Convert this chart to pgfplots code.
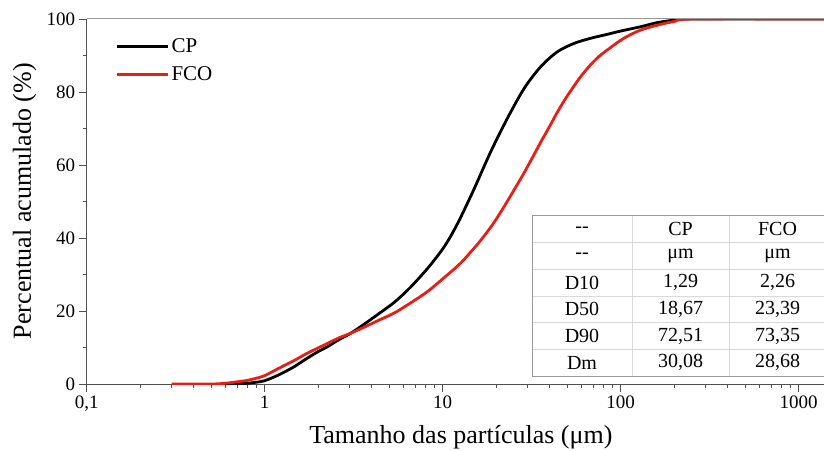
\documentclass[border=0pt]{standalone}
\usepackage{fontspec}
\setmainfont{Liberation Serif}
\usepackage{pgfplots}
\pgfplotsset{compat=1.18}
\usepackage{pgfplotstable}
\definecolor{fcored}{RGB}{232,30,20}
\definecolor{axgray}{RGB}{80,80,80}

\pgfplotstableread{
x y
0.6 0
0.7 0.05
0.8 0.2
0.9 0.5
1 0.9
1.2 2.5
1.46 4.7
1.7 6.8
2 8.9
2.25 10.2
2.6 12.1
3.04 13.9
3.6 16.3
4.3 19
5.32 22.3
6.5 26.2
8.2 31.6
10 37
11.3 41.2
12.6 45.6
15 53.4
18.6 63.6
23.1 72.8
28.7 81
35.5 86.9
44 91
54.6 93.3
67.6 94.7
84 95.8
100 96.7
130 97.9
160 99
200 99.7
250 100
1400 100
}\cpdata

\pgfplotstableread{
x y
0.3 0
0.5 0
0.6 0.2
0.7 0.6
0.8 1.0
0.9 1.6
1 2.3
1.2 4.3
1.46 6.4
1.7 8.2
2 9.9
2.25 11.1
2.6 12.6
3.04 13.9
3.6 15.5
4.3 17.3
5.32 19.4
6.5 22
8.2 25.3
10 28.8
12.6 33.1
15.5 38.0
17.5 41.2
19.4 44.2
21.5 47.6
23.9 51.3
26.5 55.0
28.7 57.9
32 62.1
35.5 66.2
40 70.7
44 74.4
49 78.2
54.6 81.6
60 84.4
67.6 87.4
75 89.6
84 91.5
104 94.7
130 97
170 98.6
200 99.3
258 100
1400 100
}\fcodata

\begin{document}
\begin{tikzpicture}
\useasboundingbox (-86.7pt,-66pt) rectangle (737.3pt,384pt);
\clip (-86.7pt,-66pt) rectangle (737.3pt,384pt);
\begin{axis}[
  scale only axis,
  width=738pt, height=365pt,
  xmode=log,
  xmin=0.1, xmax=1400,
  ymin=0, ymax=100,
  axis x line*=bottom,
  axis y line*=left,
  axis line style={axgray, line width=1pt},
  every tick/.style={axgray, line width=0.9pt},
  tick align=outside,
  major tick length=8pt,
  minor tick length=4pt,
  xtick={0.1,1,10,100,1000},
  xticklabels={{0,1},1,10,100,1000},
  minor xtick={0.2,0.3,0.4,0.5,0.6,0.7,0.8,0.9,2,3,4,5,6,7,8,9,20,30,40,50,60,70,80,90,200,300,400,500,600,700,800,900},
  ytick={0,20,40,60,80,100},
  minor ytick={10,30,50,70,90},
  ticklabel style={font=\fontsize{19}{22}\selectfont},
  /pgf/number format/assume math mode=true,
  xlabel={Tamanho das partículas (μm)},
  ylabel={Percentual acumulado (\%)},
  label style={font=\fontsize{26}{30}\selectfont},
  xlabel style={at={(rel axis cs:0.507,0)}, anchor=base, yshift=-59pt},
  ylabel style={at={(rel axis cs:0,0.501)}, anchor=center, yshift=62pt},
  legend style={at={(rel axis cs:0.035,0.958)}, anchor=north west, draw=none, fill=none,
    font=\fontsize{21}{24}\selectfont, row sep=8.5pt},
  legend cell align=left,
  legend image code/.code={\draw[#1] (0pt,0pt) -- (51pt,0pt);},
]
\addplot[black, line width=2.8pt, smooth] table[x=x,y=y] {\cpdata};
\addlegendentry{CP}
\addplot[fcored, line width=2.8pt, smooth] table[x=x,y=y] {\fcodata};
\addlegendentry{FCO}
\end{axis}
\draw[gray!80, line width=1pt] (0pt,365pt) -- (738pt,365pt);
% table
\begin{scope}[font=\fontsize{20}{24}\selectfont]
\fill[white] (445.3pt,8pt) rectangle (850pt,168pt);
\foreach \i in {1,...,5} {
  \draw[gray!30, line width=0.8pt] (445.3pt,{168pt-\i*26.667pt}) -- (850pt,{168pt-\i*26.667pt});
}
\draw[gray!30, line width=0.8pt] (545.3pt,8pt) -- (545.3pt,168pt);
\draw[gray!30, line width=0.8pt] (642.3pt,8pt) -- (642.3pt,168pt);
\draw[gray!80, line width=1pt] (850pt,8pt) -- (445.3pt,8pt) -- (445.3pt,168pt) -- (850pt,168pt);
\foreach \r/\a/\b/\c in {0/-{}-/CP/FCO,1/-{}-/μm/μm,2/D10/{1,29}/{2,26},3/D50/{18,67}/{23,39},4/D90/{72,51}/{73,35},5/Dm/{30,08}/{28,68}} {
  \node[anchor=center] at (495.3pt,{168pt-(\r+0.5)*26.667pt}) {\a};
  \node[anchor=center] at (593.8pt,{168pt-(\r+0.5)*26.667pt}) {\b};
  \node[anchor=center] at (690.8pt,{168pt-(\r+0.5)*26.667pt}) {\c};
}
\end{scope}
\end{tikzpicture}
\end{document}
